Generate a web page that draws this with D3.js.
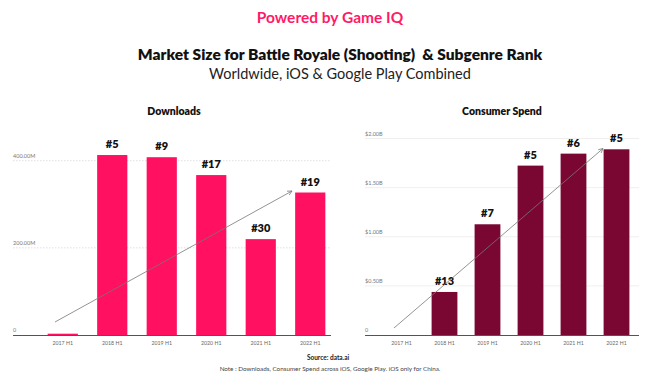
<!DOCTYPE html>
<html><head><meta charset="utf-8">
<script src="https://cdn.jsdelivr.net/npm/d3@7"></script>
<style>
body{margin:0;background:#fff;}
svg{display:block;font-family:Lato, "Open Sans", sans-serif;}
</style></head>
<body><svg id="c" width="660" height="383"></svg>
<script>
const categories = ["2017 H1","2018 H1","2019 H1","2020 H1","2021 H1","2022 H1"];
const downloads = [3, 413, 408, 367, 220, 327];          // millions
const downloadRanks = ["", "#5", "#9", "#17", "#30", "#19"];
const spend = [0, 0.438, 1.127, 1.724, 1.846, 1.89];     // billions USD
const spendRanks = ["", "#13", "#7", "#5", "#6", "#5"];
const downloadTicks = [0, 200, 400];
const downloadTickLabels = ["0", "200.00M", "400.00M"];
const spendTicks = [0, 0.5, 1.0, 1.5, 2.0];
const spendTickLabels = ["0", "$0.50B", "$1.00B", "$1.50B", "$2.00B"];

const svg = d3.select("#c");
const defs = svg.append("defs");
defs.append("marker").attr("id","arr").attr("viewBox","0 0 10 10")
  .attr("refX",9).attr("refY",5).attr("markerWidth",7).attr("markerHeight",7)
  .attr("orient","auto-start-reverse")
  .append("path").attr("d","M1,1 L9,5 L1,9").attr("fill","none").attr("stroke","#777").attr("stroke-width",1.3);

// Titles
svg.append("text").attr("x",330).attr("y",23).attr("text-anchor","middle")
  .attr("font-size",15.5).attr("font-weight",700).attr("fill","#ff1a66").text("Powered by Game IQ");
svg.append("text").attr("x",340).attr("y",60).attr("text-anchor","middle").style("white-space","pre")
  .attr("font-size",15.5).attr("font-weight",800).attr("fill","#111").text("Market Size for Battle Royale (Shooting)  & Subgenre Rank");
svg.append("text").attr("x",340).attr("y",78.5).attr("text-anchor","middle")
  .attr("font-size",14.5).attr("font-weight",400).attr("fill","#222").text("Worldwide, iOS & Google Play Combined");

svg.append("text").attr("x",328).attr("y",360).attr("text-anchor","middle")
  .attr("font-size",6.5).attr("font-weight",700).attr("fill","#222").text("Source: data.ai");
svg.append("text").attr("x",330).attr("y",371).attr("text-anchor","middle")
  .attr("font-size",6.3).attr("fill","#444").text("Note : Downloads, Consumer Spend across iOS, Google Play. iOS only for China.");

function panel(o){
  const g = svg.append("g");
  const x = d3.scaleBand().domain(categories).range(o.xr).paddingInner(o.pad).paddingOuter(o.pad/2);
  const y = d3.scaleLinear().domain(o.yd).range([335, o.ytop]);
  g.append("text").attr("x",o.tx).attr("y",115).attr("text-anchor","middle")
    .attr("font-size",10.5).attr("font-weight",800).attr("fill","#111").text(o.title);
  // grid
  o.ticks.forEach((t,i)=>{
    if(i>0){
      g.append("line").attr("x1",o.gx0).attr("x2",o.gx1).attr("y1",y(t)).attr("y2",y(t))
        .attr("stroke",o.gridColor).attr("stroke-width",0.8).attr("stroke-dasharray",o.dash);
    }
    g.append("text").attr("x",o.gx0).attr("y",y(t)-3).attr("font-size",5.5).attr("fill","#777").text(o.tickLabels[i]);
  });
  // bars
  g.selectAll("rect").data(o.values).join("rect")
    .attr("x",(d,i)=>x(categories[i])).attr("width",x.bandwidth())
    .attr("y",d=>y(d)).attr("height",d=>335-y(d)).attr("fill",o.color);
  // rank labels
  g.selectAll("text.r").data(o.ranks).join("text").attr("class","r")
    .attr("x",(d,i)=>x(categories[i])+x.bandwidth()/2).attr("y",(d,i)=>y(o.values[i])-7)
    .attr("text-anchor","middle").attr("font-size",11).attr("font-weight",800).attr("fill","#111").text(d=>d);
  // baseline
  g.append("line").attr("x1",o.gx0).attr("x2",o.gx1).attr("y1",335.5).attr("y2",335.5)
    .attr("stroke","#4b5468").attr("stroke-width",1.2);
  // x axis labels
  const ax = g.append("g").attr("transform","translate(0,336)")
    .call(d3.axisBottom(x).tickSize(0).tickPadding(5));
  ax.select(".domain").remove();
  ax.selectAll("text").attr("font-size",5.2).attr("fill","#666").attr("font-family","Lato, sans-serif");
  // arrow
  g.append("line").attr("x1",o.arrow[0]).attr("y1",o.arrow[1]).attr("x2",o.arrow[2]).attr("y2",o.arrow[3])
    .attr("stroke","#777").attr("stroke-width",0.8).attr("marker-end","url(#arr)");
}

panel({xr:[38,335], pad:0.39, yd:[0,400], ytop:160.7, ticks:downloadTicks, tickLabels:downloadTickLabels,
  values:downloads, ranks:downloadRanks, color:"#ff1060", title:"Downloads", tx:174,
  gx0:13, gx1:331, gridColor:"#d8d8d8", dash:"1.5,1.5", arrow:[55,322,292,191]});
panel({xr:[380,638], pad:0.4, yd:[0,2], ytop:138.5, ticks:spendTicks, tickLabels:spendTickLabels,
  values:spend, ranks:spendRanks, color:"#7a0731", title:"Consumer Spend", tx:502,
  gx0:365, gx1:639, gridColor:"#ebebeb", dash:null, arrow:[394,328,603,148.5]});
</script></body></html>
